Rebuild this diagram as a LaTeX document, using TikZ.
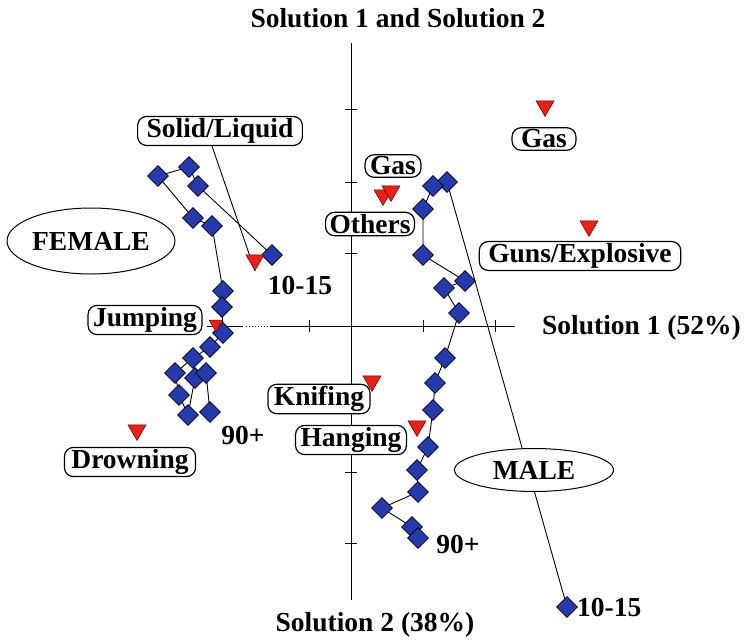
\documentclass[tikz,border=0pt]{standalone}
\usepackage{fontspec}
\setmainfont{Liberation Serif}
\usetikzlibrary{shapes.geometric,backgrounds}
\definecolor{dblue}{RGB}{38,58,175}
\definecolor{tred}{RGB}{232,32,22}
\begin{document}
\begin{tikzpicture}[x=1pt,y=-1pt,
  every node/.style={font=\fontsize{27.5}{30}\selectfont\bfseries},
  dia/.style={diamond,draw=black,line width=0.6pt,fill=dblue,minimum size=21pt,inner sep=0pt},
  tri/.style={regular polygon,regular polygon sides=3,shape border rotate=180,draw=black!60!red,line width=0.5pt,fill=tred,minimum size=21pt,inner sep=0pt},
  lbl/.style={draw,rounded corners=9pt,fill=white,line width=1.2pt,inner xsep=6pt,inner ysep=2pt},
  oval/.style={ellipse,draw,fill=white,line width=1pt,inner sep=0pt},
  txt/.style={inner sep=0pt},
  axisline/.style={line width=1pt},
  link/.style={line width=0.9pt}]
\useasboundingbox (0,0) rectangle (745,640);

% axis end coordinates
\coordinate (vtop) at (351,43);
\coordinate (vbot) at (351,600);
\coordinate (hl1) at (207,326);
\coordinate (hl2) at (243,326);
\coordinate (hd1) at (246,326);
\coordinate (hd2) at (268,326);
\coordinate (hr1) at (270,326);
\coordinate (hr2) at (515,326);

% axis titles
\node[txt] (title) at (398,18) {Solution 1 and Solution 2};
\node[txt,anchor=east] (sol1) at (741,328) {Solution 1 (52\%)};
\node[txt] (sol2) at (375,625) {Solution 2 (38\%)};

% female diamonds
\node[dia] (f1) at (272,255) {};
\node[dia] (f2) at (198,186) {};
\node[dia] (f3) at (189,167) {};
\node[dia] (f4) at (158,176) {};
\node[dia] (f5) at (193,218) {};
\node[dia] (f6) at (212,226) {};
\node[dia] (f7) at (223,291) {};
\node[dia] (f8) at (222,307) {};
\node[dia] (f9) at (223,333) {};
\node[dia] (f10) at (210,347) {};
\node[dia] (f11) at (193,358) {};
\node[dia] (f12) at (175,373) {};
\node[dia] (f13) at (195,378) {};
\node[dia] (f14) at (206,373) {};
\node[dia] (f15) at (179,395) {};
\node[dia] (f16) at (188,415) {};
\node[dia] (f17) at (210,412) {};

% male diamonds
\node[dia] (m1) at (567,607) {};
\node[dia] (m2) at (447,182) {};
\node[dia] (m3) at (433,186) {};
\node[dia] (m4) at (423,209) {};
\node[dia] (m5) at (423,255) {};
\node[dia] (m6) at (465,281) {};
\node[dia] (m7) at (444,288) {};
\node[dia] (m8) at (459,313) {};
\node[dia] (m9) at (445,358) {};
\node[dia] (m10) at (435,383) {};
\node[dia] (m11) at (433,410) {};
\node[dia] (m12) at (428,447) {};
\node[dia] (m13) at (417,470) {};
\node[dia] (m14) at (418,492) {};
\node[dia] (m15) at (382,508) {};
\node[dia] (m16) at (412,527) {};
\node[dia] (m17) at (418,538) {};

% age labels
\node[txt] (f1015) at (300,285) {10-15};
\node[txt] (f90) at (243,435) {90+};
\node[txt] (m90) at (458,544) {90+};
\node[txt,anchor=west] (m1015) at (577,607) {10-15};

% red triangles
\node[tri] (tsolid) at (255,260) {};
\node[tri,minimum size=16pt] (tjump) at (216,324) {};
\node[tri] (tdrown) at (137,430) {};
\node[tri] (tgas) at (545,106) {};
\node[tri] (toth1) at (383,195) {};
\node[tri] (toth2) at (391,191) {};
\node[tri] (tguns) at (589,226) {};
\node[tri] (tknif) at (372,381) {};
\node[tri] (thang) at (417,426) {};

% category labels
\node[lbl,inner xsep=9pt] (solid) at (220,131) {Solid/Liquid};
\node[lbl,inner xsep=5pt] (jump) at (145,320) {Jumping};
\node[lbl,inner xsep=7pt] (drown) at (130,462) {Drowning};
\node[lbl,inner xsep=9pt] (gas1) at (544,139) {Gas};
\node[lbl,inner xsep=5pt] (gas2) at (393,166) {Gas};
\node[lbl,inner xsep=4pt] (others) at (370,224) {Others};
\node[lbl,inner xsep=9pt] (guns) at (580,256) {Guns/Explosive};
\node[lbl,inner xsep=6pt] (knif) at (319,399) {Knifing};
\node[lbl,inner xsep=5pt] (hang) at (351,440) {Hanging};

% gender ellipses
\node[oval,minimum width=168pt,minimum height=66pt] (female) at (91,241) {FEMALE};
\node[oval,minimum width=159pt,minimum height=43pt] (male) at (534,470) {MALE};

\begin{scope}[on background layer]
  \draw[axisline] (vtop) -- (vbot);
  \draw[axisline] (hl1) -- (hl2);
  \draw[axisline,dotted] (hd1) -- (hd2);
  \draw[axisline] (hr1) -- (hr2);
  \foreach \yy in {109,182,253,399,472,543} \draw[axisline] (345,\yy) -- (357,\yy);
  \foreach \xx in {309,423,495} \draw[axisline] (\xx,320) -- (\xx,332);
  % female trajectory
  \draw[link] (f1.center) -- (f2.center) -- (f3.center) -- (f4.center) -- (f5.center)
    -- (f6.center) -- (f7.center) -- (f8.center) -- (f9.center) -- (f10.center)
    -- (f11.center) -- (f12.center) -- (f15.center) -- (f16.center) -- (f13.center)
    -- (f14.center) -- (f17.center);
  % male trajectory
  \draw[link] (m1.center) -- (m2.center) -- (m3.center) -- (m4.center) -- (m5.center)
    -- (m6.center) -- (m7.center) -- (m8.center) -- (m9.center) -- (m10.center)
    -- (m11.center) -- (m12.center) -- (m13.center) -- (m14.center) -- (m15.center)
    -- (m16.center) -- (m17.center);
  % label connector
  \draw[link] (solid.south) ++(-8,0) coordinate (sc) -- (tsolid.south);
\end{scope}
\end{tikzpicture}
\end{document}
